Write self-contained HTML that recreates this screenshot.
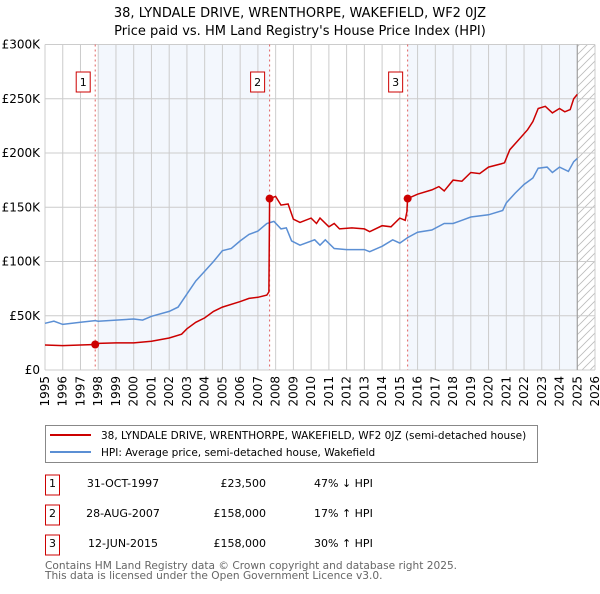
<!DOCTYPE html>
<html><head><meta charset="utf-8"><style>
body{margin:0;background:#fff;font-family:"DejaVu Sans","Liberation Sans",sans-serif;}
svg text{font-family:"DejaVu Sans","Liberation Sans",sans-serif;}
</style></head><body>
<svg id="chart" width="600" height="590" xmlns="http://www.w3.org/2000/svg">
<text x="300" y="17" text-anchor="middle" font-size="13">38, LYNDALE DRIVE, WRENTHORPE, WAKEFIELD, WF2 0JZ</text>
<text x="300" y="35" text-anchor="middle" font-size="13">Price paid vs. HM Land Registry's House Price Index (HPI)</text>
<g id="plot"></g>
<g>
<rect x="45.5" y="425.5" width="492" height="37" fill="#fff" stroke="#888"/>
<line x1="50" y1="435" x2="91" y2="435" stroke="#cc0000" stroke-width="2"/>
<text x="101" y="439" font-size="10.5">38, LYNDALE DRIVE, WRENTHORPE, WAKEFIELD, WF2 0JZ (semi-detached house)</text>
<line x1="50" y1="452" x2="91" y2="452" stroke="#5b8fd4" stroke-width="2"/>
<text x="101" y="456" font-size="10.5">HPI: Average price, semi-detached house, Wakefield</text>
</g>
<g id="table" font-size="11"></g>
<text x="45" y="569" font-size="10.6" fill="#666">Contains HM Land Registry data © Crown copyright and database right 2025.</text>
<text x="45" y="579" font-size="10.6" fill="#666">This data is licensed under the Open Government Licence v3.0.</text>
</svg>
<script>
const hpiYears=[1995,1995.5,1996,1997,1997.83,1998,1999,2000,2000.5,2001,2002,2002.5,2003,2003.5,2004,2004.5,2005,2005.5,2006,2006.5,2007,2007.5,2007.9,2008.3,2008.6,2008.9,2009.37,2010.2,2010.5,2010.8,2011.3,2012,2013,2013.3,2014,2014.6,2015,2015.44,2016,2016.8,2017.5,2018,2018.5,2019,2020,2020.8,2021,2021.5,2022,2022.5,2022.8,2023.3,2023.6,2024,2024.5,2024.8,2025];
const hpiValues=[43000,45000,42000,44000,45500,45000,46000,47000,46000,49500,54000,58000,70000,82000,91000,100000,110000,112000,119000,125000,128000,135000,137000,130000,131000,119000,115000,120000,115000,120000,112000,111000,111000,109000,114000,120000,117000,122000,127000,129000,135000,135000,138000,141000,143000,147000,154000,163000,171000,177000,186000,187000,182000,187000,183000,192000,195000];
const paidYears=[1995,1996,1997,1997.83,1998,1999,2000,2001,2002,2002.7,2003,2003.5,2004,2004.5,2005,2006,2006.5,2007,2007.5,2007.62,2007.66,2008,2008.3,2008.7,2009,2009.37,2010,2010.3,2010.5,2011,2011.3,2011.6,2012.3,2013,2013.3,2014,2014.5,2015,2015.3,2015.4,2015.44,2016,2016.8,2017.2,2017.5,2018,2018.5,2019,2019.5,2020,2020.7,2020.9,2021.2,2021.8,2022.2,2022.5,2022.8,2023.2,2023.6,2024,2024.3,2024.6,2024.8,2025];
const paidValues=[23000,22500,23000,23500,24500,25000,25000,26500,29500,33000,38000,44000,48000,54000,58000,63000,66000,67000,69000,72000,158000,160000,152000,153000,139000,136000,140000,135000,140000,132000,135000,130000,131000,130000,127500,133000,132000,140000,138000,146000,158000,162000,166000,169000,165000,175000,174000,182000,181000,187000,190000,191000,203000,214000,221500,229000,241000,243000,237000,241000,238000,240000,250000,254000];
const saleYears=[1997.83,2007.66,2015.44];
const salePrices=[23500,158000,158000];
const saleDates=["31-OCT-1997","28-AUG-2007","12-JUN-2015"];
const salePriceLabels=["£23,500","£158,000","£158,000"];
const saleHpiLabels=["47% ↓ HPI","17% ↑ HPI","30% ↑ HPI"];
const yTicks=[0,50000,100000,150000,200000,250000,300000];
const yTickLabels=["£0","£50K","£100K","£150K","£200K","£250K","£300K"];
const xTicks=[];for(let y=1995;y<=2026;y++)xTicks.push(y);

const X0=45,X1=595,Y0=370,Y1=44.5;
const xs=v=>X0+(v-1995)/(2026-1995)*(X1-X0);
const ys=v=>Y0-v/300000*(Y0-Y1);
const NS="http://www.w3.org/2000/svg";
const plot=document.getElementById('plot');
function mk(tag,attrs,parent){const e=document.createElementNS(NS,tag);for(const k in attrs)e.setAttribute(k,attrs[k]);(parent||plot).appendChild(e);return e;}

let r;
r=mk('rect',{x:X0,y:Y1,width:X1-X0,height:Y0-Y1,fill:'#fff'});


r=mk('rect',{x:xs(1998.0),y:Y1,width:xs(saleYears[1])-xs(1998.0),height:Y0-Y1,fill:'#eef3fc',opacity:0.7});


r=mk('rect',{x:xs(saleYears[2]),y:Y1,width:xs(2025)-xs(saleYears[2]),height:Y0-Y1,fill:'#eef3fc',opacity:0.7});


const defs=mk('defs',{});
const pat=mk('pattern',{id:'hatch',width:8,height:8,patternUnits:'userSpaceOnUse'},defs);
mk('path',{d:'M0,8 L8,0 M-2,2 L2,-2 M6,10 L10,6',stroke:'#bbb','stroke-width':0.8},pat);
r=mk('rect',{x:xs(2025),y:Y1,width:X1-xs(2025),height:Y0-Y1,fill:'url(#hatch)'});


xTicks.forEach(t=>{const l=mk('line',{x1:xs(t),x2:xs(t),y1:Y1,y2:Y0,stroke:'#ccc','stroke-width':1});


const tx=mk('text',{x:0,y:0,'font-size':12,'text-anchor':'end',transform:`translate(${xs(t)+4},${Y0+6}) rotate(-90)`});tx.textContent=t;

});
yTicks.forEach((t,i)=>{const l=mk('line',{x1:X0,x2:X1,y1:ys(t),y2:ys(t),stroke:'#ccc','stroke-width':1});


const tx=mk('text',{x:40,y:ys(t)+4,'font-size':12,'text-anchor':'end'});tx.textContent=yTickLabels[i];

});
r=mk('line',{x1:xs(2025),x2:xs(2025),y1:Y1,y2:Y0,stroke:'#999','stroke-width':1});


saleYears.forEach((s,i)=>{const l=mk('line',{x1:xs(s),x2:xs(s),y1:Y1,y2:Y0,stroke:'#e06060','stroke-width':1,'stroke-dasharray':'2,3'});


const b=mk('rect',{x:xs(s)-19,y:72,width:14,height:20,fill:'#fff',stroke:'#cc0000'});


const t=mk('text',{x:xs(s)-12,y:86,'font-size':11,'text-anchor':'middle'});t.textContent=i+1;

});
const path=(xa,va)=>xa.map((x,i)=>(i?'L':'M')+xs(x).toFixed(1)+','+ys(va[i]).toFixed(1)).join(' ');
r=mk('path',{d:path(hpiYears,hpiValues),fill:'none',stroke:'#5b8fd4','stroke-width':1.5});


r=mk('path',{d:path(paidYears,paidValues),fill:'none',stroke:'#cc0000','stroke-width':1.5});


saleYears.forEach((s,i)=>{const c=mk('circle',{cx:xs(s),cy:ys(salePrices[i]),r:4,fill:'#cc0000'});

});

const table=document.getElementById('table');
const rowY=[487,517,547];
saleYears.forEach((s,i)=>{const y=rowY[i];
let e=mk('rect',{x:45.5,y:y-12,width:14,height:20,fill:'#fff',stroke:'#cc0000'},table);


e=mk('text',{x:52.5,y:y,'text-anchor':'middle'},table);e.textContent=i+1;


e=mk('text',{x:123,y:y,'text-anchor':'middle'},table);e.textContent=saleDates[i];


e=mk('text',{x:266,y:y,'text-anchor':'end'},table);e.textContent=salePriceLabels[i];


e=mk('text',{x:314,y:y},table);e.textContent=saleHpiLabels[i];

});
</script>
</body></html>
